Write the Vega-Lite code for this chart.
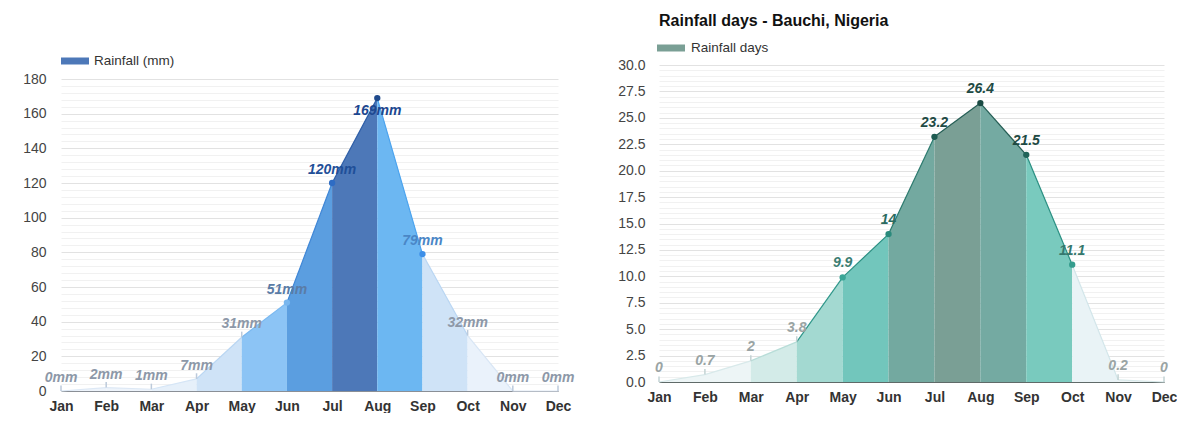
{
  "$schema": "https://vega.github.io/schema/vega-lite/v6.json",
  "background": "white",
  "padding": {"left": 22, "top": 13, "right": 0, "bottom": 0},
  "config": {
    "view": {"stroke": null},
    "font": "Liberation Sans",
    "axis": {"labelFont": "Liberation Sans", "titleFont": "Liberation Sans"},
    "legend": {"labelFont": "Liberation Sans"},
    "area": {"opacity": 1, "fillOpacity": 1}
  },
  "datasets": {
    "rain": [
      {"m": "Jan", "v": 0}, {"m": "Feb", "v": 2}, {"m": "Mar", "v": 1}, {"m": "Apr", "v": 7},
      {"m": "May", "v": 31}, {"m": "Jun", "v": 51}, {"m": "Jul", "v": 120}, {"m": "Aug", "v": 169},
      {"m": "Sep", "v": 79}, {"m": "Oct", "v": 32}, {"m": "Nov", "v": 0}, {"m": "Dec", "v": 0}
    ],
    "days": [
      {"m": "Jan", "v": 0}, {"m": "Feb", "v": 0.7}, {"m": "Mar", "v": 2}, {"m": "Apr", "v": 3.8},
      {"m": "May", "v": 9.9}, {"m": "Jun", "v": 14}, {"m": "Jul", "v": 23.2}, {"m": "Aug", "v": 26.4},
      {"m": "Sep", "v": 21.5}, {"m": "Oct", "v": 11.1}, {"m": "Nov", "v": 0.2}, {"m": "Dec", "v": 0}
    ]
  },
  "hconcat": [
    {
      "width": 497,
      "height": 326,
      "data": {"name": "rain"},
      "encoding": {
        "x": {"field": "m", "type": "ordinal",
          "scale": {"type": "point", "padding": 0, "domain": ["Jan","Feb","Mar","Apr","May","Jun","Jul","Aug","Sep","Oct","Nov","Dec"]},
          "axis": {"title": null, "labelAngle": 0, "ticks": false, "labelPadding": 8, "labelFontSize": 14, "labelFontWeight": "bold", "labelColor": "#333", "domainColor": "#8a8f96", "domainWidth": 1.2, "grid": false}},
        "y": {"field": "v", "type": "quantitative",
          "scale": {"domain": [0, 188.1], "nice": false},
          "axis": {"title": null, "ticks": false, "domain": false, "labelPadding": 15, "labelFontSize": 14, "labelColor": "#444",
            "values": [0,4,8,12,16,20,24,28,32,36,40,44,48,52,56,60,64,68,72,76,80,84,88,92,96,100,104,108,112,116,120,124,128,132,136,140,144,148,152,156,160,164,168,172,176,180],
            "labelExpr": "datum.value % 20 === 0 ? datum.label : ''",
            "gridColor": {"condition": {"test": "datum.value % 20 === 0", "value": "#e2e2e2"}, "value": "#f1f1f1"}}}
      },
      "layer": [
        {"transform": [{"filter": {"field": "m", "oneOf": ["Jan","Feb"]}}], "mark": {"type": "area", "color": "#eef4fb", "opacity": 1, "line": {"color": "#dde8f5", "strokeWidth": 1.2}}},
        {"transform": [{"filter": {"field": "m", "oneOf": ["Feb","Mar"]}}], "mark": {"type": "area", "color": "#eef4fb", "opacity": 1, "line": {"color": "#dde8f5", "strokeWidth": 1.2}}},
        {"transform": [{"filter": {"field": "m", "oneOf": ["Mar","Apr"]}}], "mark": {"type": "area", "color": "#e6f0fa", "opacity": 1, "line": {"color": "#d5e5f6", "strokeWidth": 1.2}}},
        {"transform": [{"filter": {"field": "m", "oneOf": ["Apr","May"]}}], "mark": {"type": "area", "color": "#cfe3f7", "opacity": 1, "line": {"color": "#b9d6f3", "strokeWidth": 1.2}}},
        {"transform": [{"filter": {"field": "m", "oneOf": ["May","Jun"]}}], "mark": {"type": "area", "color": "#8cc4f5", "opacity": 1, "line": {"color": "#7ab8f0", "strokeWidth": 1.2}}},
        {"transform": [{"filter": {"field": "m", "oneOf": ["Jun","Jul"]}}], "mark": {"type": "area", "color": "#5b9ee0", "opacity": 1, "line": {"color": "#3f86d6", "strokeWidth": 1.2}}},
        {"transform": [{"filter": {"field": "m", "oneOf": ["Jul","Aug"]}}], "mark": {"type": "area", "opacity": 1},
          "encoding": {"fill": {"datum": "Rainfall (mm)", "type": "nominal", "scale": {"range": ["#4d78b8"]},
            "legend": {"orient": "none", "legendX": 4, "legendY": -14, "title": null, "symbolType": "M-1.4,-0.35H1.4V0.35H-1.4Z", "symbolSize": 400, "symbolStrokeWidth": 0, "labelFontSize": 13.5, "labelColor": "#333", "labelOffset": 9,
              "encode": {"symbols": {"update": {"fill": {"value": "#4a78c2"}, "opacity": {"value": 1}}}}}}}},
        {"transform": [{"filter": {"field": "m", "oneOf": ["Jul","Aug"]}}], "mark": {"type": "line", "color": "#2f5fa8", "strokeWidth": 1.2}},
        {"transform": [{"filter": {"field": "m", "oneOf": ["Aug","Sep"]}}], "mark": {"type": "area", "color": "#6cb7f2", "opacity": 1, "line": {"color": "#4ba3ee", "strokeWidth": 1.2}}},
        {"transform": [{"filter": {"field": "m", "oneOf": ["Sep","Oct"]}}], "mark": {"type": "area", "color": "#cfe3f7", "opacity": 1, "line": {"color": "#b9d6f3", "strokeWidth": 1.2}}},
        {"transform": [{"filter": {"field": "m", "oneOf": ["Oct","Nov"]}}], "mark": {"type": "area", "color": "#eaf2fb", "opacity": 1, "line": {"color": "#d8e6f5", "strokeWidth": 1.2}}},
        {"transform": [{"filter": {"field": "m", "oneOf": ["Nov","Dec"]}}], "mark": {"type": "area", "color": "#eef4fb", "opacity": 1, "line": {"color": "#e0eaf5", "strokeWidth": 1.2}}},
        {"transform": [{"filter": "datum.v < 40"}], "mark": {"type": "point", "shape": "M0,0V-1.4", "filled": false, "size": 64, "strokeWidth": 1.5, "color": "#bccadb", "opacity": 1}},
        {"transform": [{"filter": "datum.v >= 40"}], "mark": {"type": "point", "filled": true, "size": 40, "opacity": 1},
          "encoding": {"color": {"field": "v", "type": "quantitative", "scale": {"domain": [51, 79, 120, 169], "range": ["#78b6ee", "#3d8fe8", "#2e6cc4", "#1f4a8c"]}, "legend": null}}},
        {"transform": [{"filter": "datum.m !== 'Aug'"}, {"calculate": "datum.v + 'mm'", "as": "label"}],
          "mark": {"type": "text", "dy": -13, "fontSize": 14, "fontWeight": "bold", "fontStyle": "italic", "font": "Liberation Sans"},
          "encoding": {"text": {"field": "label", "type": "nominal"},
            "color": {"field": "v", "type": "quantitative", "scale": {"domain": [0, 32, 51, 79, 120, 170], "range": ["#8d98a8", "#8d98a8", "#5a7ca6", "#4a86c6", "#1f4f98", "#1c4790"]}, "legend": null}}},
        {"transform": [{"filter": "datum.m === 'Aug'"}, {"calculate": "datum.v + 'mm'", "as": "label"}],
          "mark": {"type": "text", "dy": 13, "fontSize": 14, "fontWeight": "bold", "fontStyle": "italic", "font": "Liberation Sans", "color": "#1c4790"},
          "encoding": {"text": {"field": "label", "type": "nominal"}}}
      ],
      "resolve": {"scale": {"color": "independent"}}
    },
    {
      "width": 505,
      "height": 317,
      "data": {"name": "days"},
      "title": {"text": "Rainfall days - Bauchi, Nigeria", "anchor": "start", "frame": "group", "fontSize": 16, "fontWeight": "bold", "font": "Liberation Sans", "color": "#111", "offset": 9},
      "encoding": {
        "x": {"field": "m", "type": "ordinal",
          "scale": {"type": "point", "padding": 0, "domain": ["Jan","Feb","Mar","Apr","May","Jun","Jul","Aug","Sep","Oct","Nov","Dec"]},
          "axis": {"title": null, "labelAngle": 0, "ticks": false, "labelPadding": 8, "labelFontSize": 14, "labelFontWeight": "bold", "labelColor": "#333", "domainColor": "#5f6a68", "domainWidth": 1.2, "grid": false}},
        "y": {"field": "v", "type": "quantitative",
          "scale": {"domain": [0, 30], "nice": false},
          "axis": {"title": null, "ticks": false, "domain": false, "labelPadding": 14, "labelFontSize": 14, "labelColor": "#444",
            "values": [0,0.5,1,1.5,2,2.5,3,3.5,4,4.5,5,5.5,6,6.5,7,7.5,8,8.5,9,9.5,10,10.5,11,11.5,12,12.5,13,13.5,14,14.5,15,15.5,16,16.5,17,17.5,18,18.5,19,19.5,20,20.5,21,21.5,22,22.5,23,23.5,24,24.5,25,25.5,26,26.5,27,27.5,28,28.5,29,29.5,30],
            "labelExpr": "datum.value % 2.5 === 0 ? format(datum.value, '.1f') : ''",
            "gridColor": {"condition": {"test": "datum.value % 2.5 === 0", "value": "#e2e2e2"}, "value": "#f1f1f1"}}}
      },
      "layer": [
        {"transform": [{"filter": {"field": "m", "oneOf": ["Jan","Feb"]}}], "mark": {"type": "area", "color": "#edf5f6", "opacity": 1, "line": {"color": "#d8e9ea", "strokeWidth": 1.2}}},
        {"transform": [{"filter": {"field": "m", "oneOf": ["Feb","Mar"]}}], "mark": {"type": "area", "color": "#edf5f6", "opacity": 1, "line": {"color": "#d8e9ea", "strokeWidth": 1.2}}},
        {"transform": [{"filter": {"field": "m", "oneOf": ["Mar","Apr"]}}], "mark": {"type": "area", "color": "#d3ebe8", "opacity": 1, "line": {"color": "#b8ddd8", "strokeWidth": 1.2}}},
        {"transform": [{"filter": {"field": "m", "oneOf": ["Apr","May"]}}], "mark": {"type": "area", "color": "#a3d9d1", "opacity": 1, "line": {"color": "#2f978a", "strokeWidth": 1.2}}},
        {"transform": [{"filter": {"field": "m", "oneOf": ["May","Jun"]}}], "mark": {"type": "area", "color": "#72c6bc", "opacity": 1, "line": {"color": "#2a8f82", "strokeWidth": 1.2}}},
        {"transform": [{"filter": {"field": "m", "oneOf": ["Jun","Jul"]}}], "mark": {"type": "area", "color": "#73a9a0", "opacity": 1, "line": {"color": "#2b7a6e", "strokeWidth": 1.2}}},
        {"transform": [{"filter": {"field": "m", "oneOf": ["Jul","Aug"]}}], "mark": {"type": "area", "opacity": 1},
          "encoding": {"fill": {"datum": "Rainfall days", "type": "nominal", "scale": {"range": ["#7a9f95"]},
            "legend": {"orient": "none", "legendX": 2, "legendY": -27, "title": null, "symbolType": "M-1.4,-0.35H1.4V0.35H-1.4Z", "symbolSize": 400, "symbolStrokeWidth": 0, "labelFontSize": 13.5, "labelColor": "#333", "labelOffset": 10,
              "encode": {"symbols": {"update": {"fill": {"value": "#5f9c90"}, "opacity": {"value": 1}}}}}}}},
        {"transform": [{"filter": {"field": "m", "oneOf": ["Jul","Aug"]}}], "mark": {"type": "line", "color": "#255e55", "strokeWidth": 1.2}},
        {"transform": [{"filter": {"field": "m", "oneOf": ["Aug","Sep"]}}], "mark": {"type": "area", "color": "#74aaa2", "opacity": 1, "line": {"color": "#255e55", "strokeWidth": 1.2}}},
        {"transform": [{"filter": {"field": "m", "oneOf": ["Sep","Oct"]}}], "mark": {"type": "area", "color": "#79cabe", "opacity": 1, "line": {"color": "#2a8f82", "strokeWidth": 1.2}}},
        {"transform": [{"filter": {"field": "m", "oneOf": ["Oct","Nov"]}}], "mark": {"type": "area", "color": "#e9f3f6", "opacity": 1, "line": {"color": "#d2e6ea", "strokeWidth": 1.2}}},
        {"transform": [{"filter": {"field": "m", "oneOf": ["Nov","Dec"]}}], "mark": {"type": "area", "color": "#eef5f6", "opacity": 1, "line": {"color": "#d8e9ea", "strokeWidth": 1.2}}},
        {"transform": [{"filter": "datum.v < 5"}], "mark": {"type": "point", "shape": "M0,0V-1.4", "filled": false, "size": 64, "strokeWidth": 1.5, "color": "#c3d3d4", "opacity": 1}},
        {"transform": [{"filter": "datum.v >= 5"}], "mark": {"type": "point", "filled": true, "size": 40, "opacity": 1},
          "encoding": {"color": {"field": "v", "type": "quantitative", "scale": {"domain": [9.9, 14, 23.2, 26.4], "range": ["#3aa596", "#2a8a7c", "#1f5c52", "#1a4a43"]}, "legend": null}}},
        {"mark": {"type": "text", "dy": -14, "fontSize": 14, "fontWeight": "bold", "fontStyle": "italic", "font": "Liberation Sans"},
          "encoding": {"text": {"field": "v", "type": "nominal"},
            "color": {"field": "v", "type": "quantitative", "scale": {"domain": [0, 4, 9.9, 14, 20, 27], "range": ["#9aa4a4", "#9aa4a4", "#3a7d72", "#2a6b60", "#1e4a44", "#1e4a44"]}, "legend": null}}}
      ],
      "resolve": {"scale": {"color": "independent"}}
    }
  ],
  "resolve": {"scale": {"fill": "independent", "color": "independent"}, "legend": {"fill": "independent"}},
  "spacing": 101,
  "bounds": "flush"
}
